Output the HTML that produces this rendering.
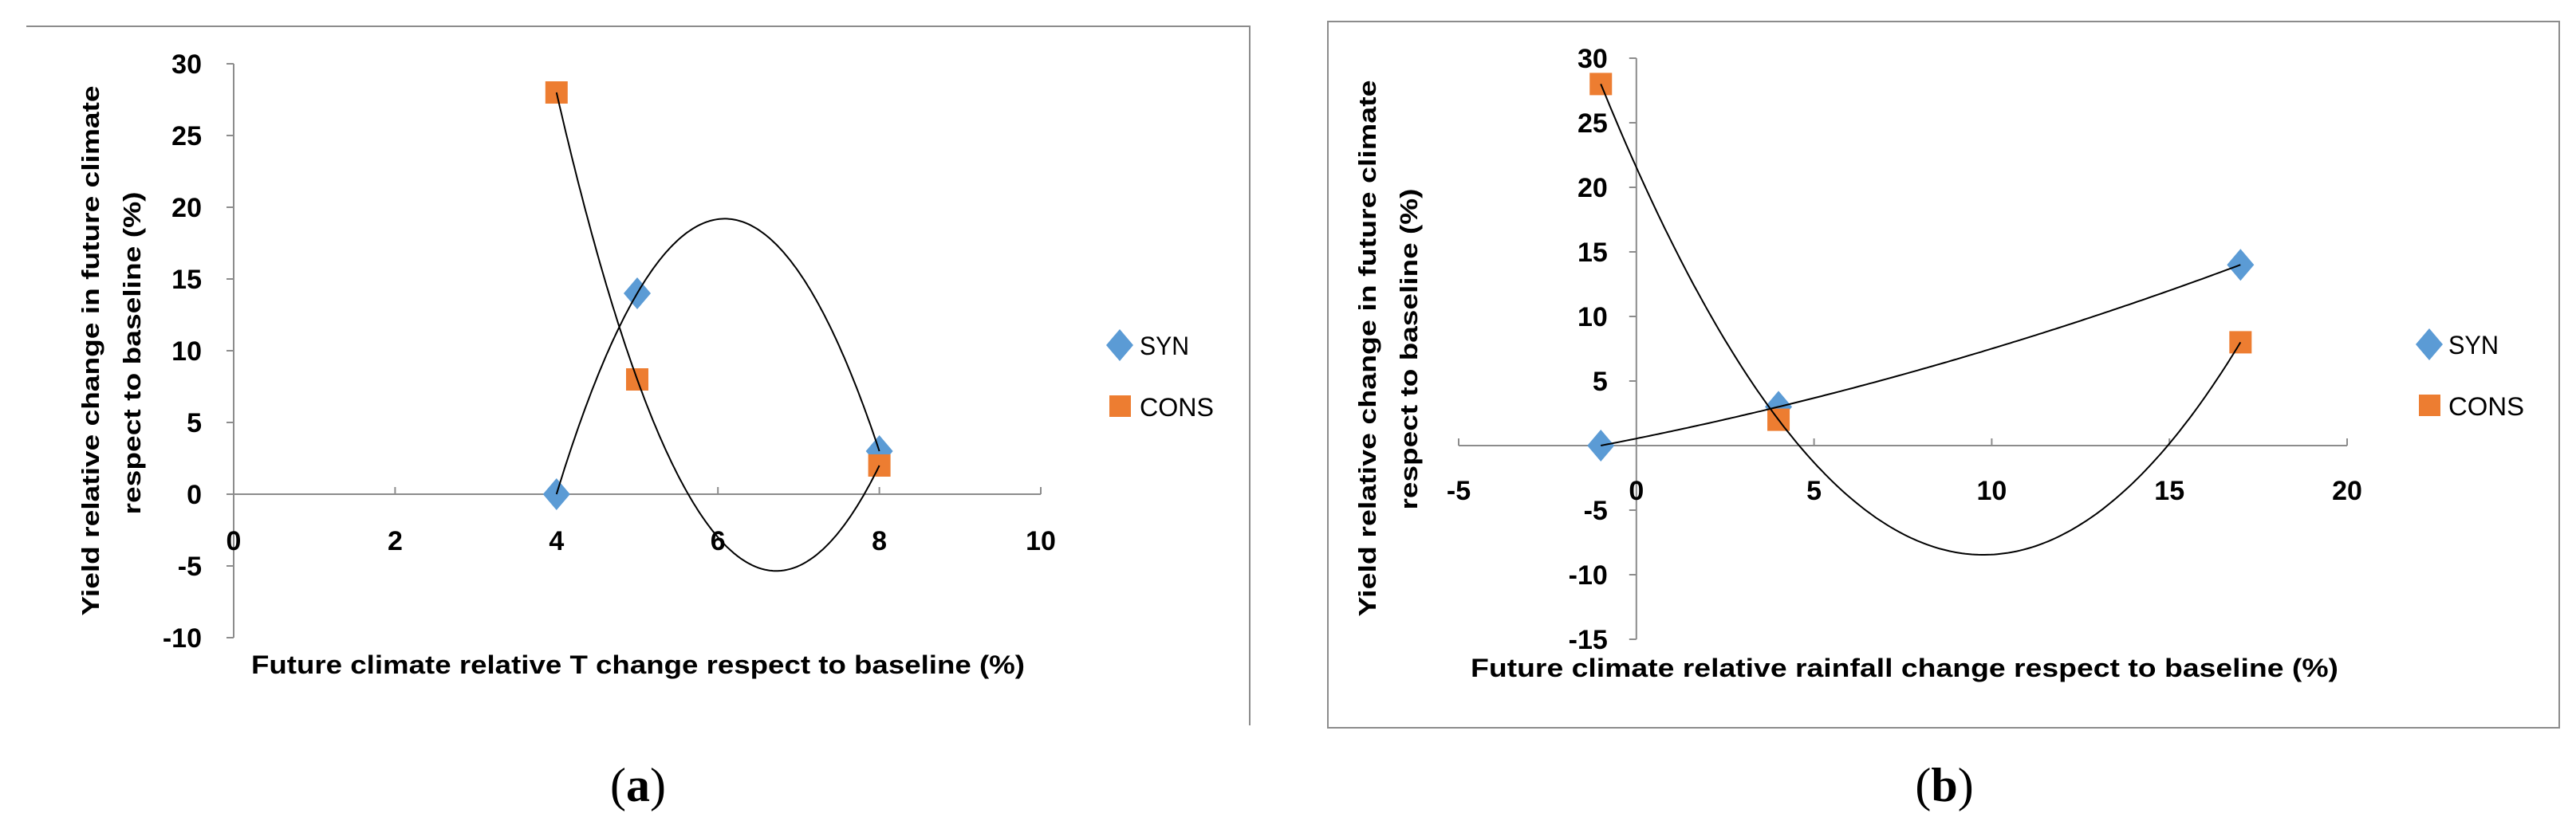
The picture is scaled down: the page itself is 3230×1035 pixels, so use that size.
<!DOCTYPE html>
<html><head><meta charset="utf-8"><style>
html,body{margin:0;padding:0;background:#fff;}
svg{display:block;}
text{font-family:"Liberation Sans",sans-serif;}
</style></head><body>
<svg id="root" width="3230" height="1035" viewBox="0 0 3230 1035" xmlns="http://www.w3.org/2000/svg">
<g id="chartA"></g>
<g id="chartB"></g>
<text x="800" y="1005" font-size="60" text-anchor="middle" style="font-family:'Liberation Serif',serif">(<tspan font-weight="bold">a</tspan>)</text>
<text x="2438" y="1005" font-size="60" text-anchor="middle" style="font-family:'Liberation Serif',serif">(<tspan font-weight="bold">b</tspan>)</text>
</svg>
<script>
// Chart A data
const aXTicks = [0,2,4,6,8,10];
const aYTicks = [-10,-5,0,5,10,15,20,25,30];
const aSynX = [4,5,8];
const aSynY = [0,14,3];
const aConsX = [4,5,8];
const aConsY = [28,8,2];
// Chart B data
const bXTicks = [-5,0,5,10,15,20];
const bYTicks = [-15,-10,-5,0,5,10,15,20,25,30];
const bSynX = [-1,4,17];
const bSynY = [0,3,14];
const bConsX = [-1,4,17];
const bConsY = [28,2,8];

const NS = "http://www.w3.org/2000/svg";
function mk(parent, tag, attrs){
  const e = document.createElementNS(NS, tag);
  for (const k in attrs) e.setAttribute(k, attrs[k]);
  parent.appendChild(e);
  return e;
}
function quadFit(xs, ys){
  let S=[0,0,0,0,0], T=[0,0,0];
  for (let i=0;i<xs.length;i++){
    let p=1; for(let k=0;k<5;k++){S[k]+=p; if(k<3)T[k]+=ys[i]*p; p*=xs[i];}
  }
  const M=[[S[0],S[1],S[2],T[0]],[S[1],S[2],S[3],T[1]],[S[2],S[3],S[4],T[2]]];
  for(let i=0;i<3;i++){
    let piv=i; for(let r=i+1;r<3;r++) if(Math.abs(M[r][i])>Math.abs(M[piv][i])) piv=r;
    [M[i],M[piv]]=[M[piv],M[i]];
    for(let r=0;r<3;r++){ if(r===i) continue; const f=M[r][i]/M[i][i]; for(let c=i;c<4;c++) M[r][c]-=f*M[i][c]; }
  }
  return [M[0][3]/M[0][0], M[1][3]/M[1][1], M[2][3]/M[2][2]];
}
function drawChart(g, cfg){
  const sx = v => cfg.x0 + (v - cfg.xmin) * cfg.xs;
  const sy = v => cfg.y0 - (v - cfg.ymin) * cfg.ys;
  const ax = sx(0), ay = sy(0);
  const ymax = cfg.yTicks[cfg.yTicks.length-1], xmax = cfg.xTicks[cfg.xTicks.length-1];
  const yAxis = mk(g,'line',{x1:ax,y1:sy(cfg.ymin),x2:ax,y2:sy(ymax),stroke:'#8c8c8c','stroke-width':2});
  
  
  const xAxis = mk(g,'line',{x1:sx(cfg.xmin),y1:ay,x2:sx(xmax),y2:ay,stroke:'#8c8c8c','stroke-width':2});
  
  
  cfg.yTicks.forEach(v=>{
    const t = mk(g,'line',{x1:ax-9,y1:sy(v),x2:ax,y2:sy(v),stroke:'#8c8c8c','stroke-width':2});
    
    
    const l = mk(g,'text',{x:ax-cfg.yLabOff,y:sy(v)+12,'font-size':34,'font-weight':'bold','text-anchor':'end',fill:'#000'});
    l.textContent = v;
    
    
  });
  cfg.xTicks.forEach(v=>{
    const t = mk(g,'line',{x1:sx(v),y1:ay-9,x2:sx(v),y2:ay,stroke:'#8c8c8c','stroke-width':2});
    
    
    const l = mk(g,'text',{x:sx(v),y:cfg.xLabY,'font-size':34,'font-weight':'bold','text-anchor':'middle',fill:'#000'});
    l.textContent = v;
    
    
  });
  cfg.synX.forEach((x,i)=>{
    const cx=sx(x), cy=sy(cfg.synY[i]);
    const m = mk(g,'polygon',{points:`${cx},${cy-20} ${cx+17},${cy} ${cx},${cy+20} ${cx-17},${cy}`,fill:'#5B9BD5'});
    
    
  });
  cfg.consX.forEach((x,i)=>{
    const cx=sx(x), cy=sy(cfg.consY[i]);
    const m = mk(g,'rect',{x:cx-14,y:cy-14,width:28,height:28,fill:'#ED7D31'});
    
    
  });
  [[cfg.synX,cfg.synY,'syn'],[cfg.consX,cfg.consY,'cons']].forEach(([xs,ys,nm])=>{
    const c = quadFit(xs,ys);
    const lo=Math.min(...xs), hi=Math.max(...xs);
    let d='';
    for(let i=0;i<=200;i++){ const x=lo+(hi-lo)*i/200; const y=c[0]+c[1]*x+c[2]*x*x; d+=(i?'L':'M')+sx(x).toFixed(1)+' '+sy(y).toFixed(1); }
    const p = mk(g,'path',{d:d,fill:'none',stroke:'#000','stroke-width':2});
    
    
  });
}
drawChart(document.getElementById('chartA'),{x0:293,xmin:0,xs:101.2,y0:800,ymin:-10,ys:18,
  xTicks:aXTicks,yTicks:aYTicks,synX:aSynX,synY:aSynY,consX:aConsX,consY:aConsY,yLabOff:40,xLabY:690});
drawChart(document.getElementById('chartB'),{x0:1829,xmin:-5,xs:44.56,y0:802,ymin:-15,ys:16.2,
  xTicks:bXTicks,yTicks:bYTicks,synX:bSynX,synY:bSynY,consX:bConsX,consY:bConsY,yLabOff:36,xLabY:627});
</script>
<script>
const r=document.getElementById('root');
r.insertAdjacentHTML('beforeend', `
<path d="M33 33 H1567 V910" fill="none" stroke="#8c8c8c" stroke-width="2"/>
<rect x="1665" y="27" width="1544" height="886" fill="none" stroke="#8c8c8c" stroke-width="2"/>
<text transform="translate(124,440) rotate(-90)" font-size="31" font-weight="bold" text-anchor="middle" textLength="665" lengthAdjust="spacingAndGlyphs">Yield relative change in future climate</text>
<text transform="translate(176,443) rotate(-90)" font-size="31" font-weight="bold" text-anchor="middle" textLength="405" lengthAdjust="spacingAndGlyphs">respect to baseline  (%)</text>
<text x="800" y="845" font-size="32" font-weight="bold" text-anchor="middle" textLength="970" lengthAdjust="spacingAndGlyphs">Future climate relative T change respect to baseline (%)</text>
<text transform="translate(1725,437) rotate(-90)" font-size="31" font-weight="bold" text-anchor="middle" textLength="673" lengthAdjust="spacingAndGlyphs">Yield relative change in future climate</text>
<text transform="translate(1777,438) rotate(-90)" font-size="31" font-weight="bold" text-anchor="middle" textLength="403" lengthAdjust="spacingAndGlyphs">respect to baseline (%)</text>
<text x="2388" y="849" font-size="32" font-weight="bold" text-anchor="middle" textLength="1088" lengthAdjust="spacingAndGlyphs">Future climate relative rainfall change respect to baseline (%)</text>
<g>
<polygon points="1404,413 1421,433 1404,453 1387,433" fill="#5B9BD5"/>
<text x="1429" y="445" font-size="32" textLength="62" lengthAdjust="spacingAndGlyphs">SYN</text>
<rect x="1391" y="496" width="27" height="27" fill="#ED7D31"/>
<text x="1429" y="522" font-size="32" textLength="93" lengthAdjust="spacingAndGlyphs">CONS</text>
</g>
<g>
<polygon points="3046,412 3063,432 3046,452 3029,432" fill="#5B9BD5"/>
<text x="3070" y="444" font-size="32" textLength="63" lengthAdjust="spacingAndGlyphs">SYN</text>
<rect x="3033" y="495" width="27" height="27" fill="#ED7D31"/>
<text x="3070" y="521" font-size="32" textLength="95" lengthAdjust="spacingAndGlyphs">CONS</text>
</g>`);
</script>
</body></html>
